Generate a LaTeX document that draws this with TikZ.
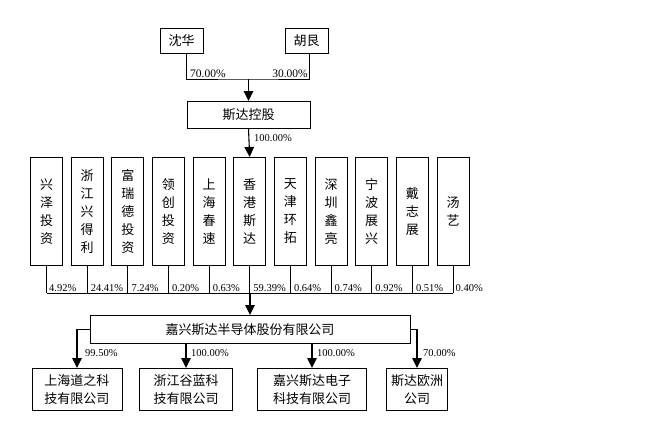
\documentclass[tikz,border=0pt]{standalone}
\usepackage{fontspec}
\setmainfont{Liberation Serif}
\newfontfamily\cjk{Noto Sans CJK SC}
\usetikzlibrary{arrows.meta,positioning}

\begin{document}
\begin{tikzpicture}[
    x=1pt, y=-1pt,
    box/.style={draw, line width=0.7pt, inner sep=0pt, align=center,
        font=\cjk\fontsize{13}{18}\selectfont},
    holder/.style={box, minimum width=32pt, minimum height=108pt, anchor=north},
    subco/.style={box, minimum height=42pt, anchor=north},
    pct/.style={inner sep=1pt, font=\fontsize{10.5}{12}\selectfont},
    link/.style={line width=0.7pt},
    arr/.style={line width=1.1pt, -{Triangle[length=10pt,width=9.5pt]}}
]
\useasboundingbox (0,0) rectangle (665,431);

% top owners
\node[box, minimum width=43pt, minimum height=25pt] (shen) at (181.5,40.5) {沈华};
\node[box, minimum width=43pt, minimum height=25pt] (hu) at (306.5,40.5) {胡艮};
\node[box, minimum width=123pt, minimum height=27pt, anchor=north] (sdkg) at (248.5,101) {斯达控股};
\coordinate (topbar) at (248.5,79);

\draw[link] ([xshift=4.5pt]shen.south) |- (topbar) -| ([xshift=2.5pt]hu.south);
\draw[arr] (topbar) -- (sdkg.north);
\node[pct, font=\fontsize{11.5}{13}\selectfont, anchor=south west] at (189,79) {70.00\%};
\node[pct, font=\fontsize{11.5}{13}\selectfont, anchor=south east] at (309,79) {30.00\%};

% shareholders
\node[holder] (xz) at (46.5,157) {兴\\泽\\投\\资};
\node[holder] (zjx) at (87.1,157) {浙\\江\\兴\\得\\利};
\node[holder] (frd) at (127.8,157) {富\\瑞\\德\\投\\资};
\node[holder] (lc) at (168.4,157) {领\\创\\投\\资};
\node[holder] (shcs) at (209.1,157) {上\\海\\春\\速};
\node[holder] (hk) at (249.7,157) {香\\港\\斯\\达};
\node[holder] (tj) at (290.4,157) {天\\津\\环\\拓};
\node[holder] (sz) at (331,157) {深\\圳\\鑫\\亮};
\node[holder] (nb) at (371.7,157) {宁\\波\\展\\兴};
\node[holder] (dzz) at (412.3,157) {戴\\志\\展};
\node[holder] (ty) at (453,157) {汤\\艺};

\draw[arr] (sdkg.south) -- (hk.north);
\node[pct, anchor=west] at (253,138) {100.00\%};

\coordinate (barL) at (46.5,293);
\coordinate (barR) at (453,293);
\draw[link] (barL) -- (barR);
\draw[link] (xz.south) -- (xz.south |- barL);
\draw[link] (zjx.south) -- (zjx.south |- barL);
\draw[link] (frd.south) -- (frd.south |- barL);
\draw[link] (lc.south) -- (lc.south |- barL);
\draw[link] (shcs.south) -- (shcs.south |- barL);
\draw[link] (hk.south) -- (hk.south |- barL);
\draw[link] (tj.south) -- (tj.south |- barL);
\draw[link] (sz.south) -- (sz.south |- barL);
\draw[link] (nb.south) -- (nb.south |- barL);
\draw[link] (dzz.south) -- (dzz.south |- barL);
\draw[link] (ty.south) -- (ty.south |- barL);

\node[pct, anchor=south west] at ([xshift=1.5pt]xz.south |- barL) {4.92\%};
\node[pct, anchor=south west] at ([xshift=2.5pt]zjx.south |- barL) {24.41\%};
\node[pct, anchor=south west] at ([xshift=2.5pt]frd.south |- barL) {7.24\%};
\node[pct, anchor=south west] at ([xshift=2.5pt]lc.south |- barL) {0.20\%};
\node[pct, anchor=south west] at ([xshift=2.5pt]shcs.south |- barL) {0.63\%};
\node[pct, anchor=south west] at ([xshift=2.5pt]hk.south |- barL) {59.39\%};
\node[pct, anchor=south west] at ([xshift=2.5pt]tj.south |- barL) {0.64\%};
\node[pct, anchor=south west] at ([xshift=2.5pt]sz.south |- barL) {0.74\%};
\node[pct, anchor=south west] at ([xshift=2.5pt]nb.south |- barL) {0.92\%};
\node[pct, anchor=south west] at ([xshift=2.5pt]dzz.south |- barL) {0.51\%};
\node[pct, anchor=south west] at ([xshift=1.5pt]ty.south |- barL) {0.40\%};

% company and subsidiaries
\node[box, minimum width=320pt, minimum height=28pt, anchor=north] (jx) at (250,315) {嘉兴斯达半导体股份有限公司};
\draw[arr] (jx.north |- barL) -- (jx.north);

\node[subco, minimum width=90pt] (shdz) at (77,368) {上海道之科\\技有限公司};
\node[subco, minimum width=93pt] (zjgl) at (186,368) {浙江谷蓝科\\技有限公司};
\node[subco, minimum width=109pt] (jxdz) at (312,368) {嘉兴斯达电子\\科技有限公司};
\node[subco, minimum width=61pt] (oz) at (417,368) {斯达欧洲\\公司};

\draw[arr] (jx.west) -| (shdz.north);
\draw[arr] (zjgl.north |- jx.south) -- (zjgl.north);
\draw[arr] (jxdz.north |- jx.south) -- (jxdz.north);
\draw[arr] (jx.east) -| (oz.north);

\node[pct, anchor=west] at (84,353) {99.50\%};
\node[pct, anchor=west] at (190,353) {100.00\%};
\node[pct, anchor=west] at (316,353) {100.00\%};
\node[pct, anchor=west] at (422,353) {70.00\%};
\end{tikzpicture}
\end{document}
